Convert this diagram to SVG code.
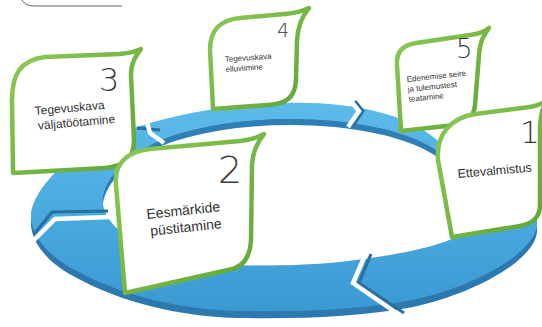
<svg xmlns="http://www.w3.org/2000/svg" width="542" height="327" viewBox="0 0 542 327">
<defs>
<style>
.card{fill:#fff;stroke:url(#grn);stroke-width:4.5;stroke-linejoin:round}
.num{font-family:"DejaVu Sans",sans-serif;font-weight:200;fill:#3a3a3a}
.lbl{font-family:"Liberation Sans",Arial,sans-serif;fill:#333}
.cut{fill:none;stroke:#fff;stroke-width:4.5;stroke-linejoin:miter}
.edge{fill:none;stroke:#2a6f9e;stroke-width:3}
</style>
<linearGradient id="top" x1="0" y1="0" x2="0" y2="1">
<stop offset="0" stop-color="#5dbbea"/>
<stop offset="0.6" stop-color="#47a8de"/>
<stop offset="1" stop-color="#3b99d1"/>
</linearGradient>
<linearGradient id="grn" x1="0" y1="0" x2="1" y2="1">
<stop offset="0" stop-color="#8ec955"/>
<stop offset="1" stop-color="#5fa535"/>
</linearGradient>
<path id="outer" d="M285,103 C345,101 405,112 437,140 C490,170 540,200 537,225 C534,255 470,288 413,300 C360,310 300,312 240,311 C180,310 120,295 75,270 C40,252 25,225 33,205 C45,172 90,140 140,126 C180,114 230,104 285,103 Z"/>
<path id="inner" d="M290,119 C350,119 410,130 440,153 C475,178 490,205 475,225 C455,245 400,255 340,262 C300,266 260,266 230,265 C170,262 110,240 103,205 C100,180 130,150 175,135 C210,124 250,119 290,119 Z"/>
<clipPath id="hole"><use href="#inner"/></clipPath>
</defs>
<rect width="542" height="327" fill="#fff"/>
<path d="M22,0 C25,5 29,6 38,6 L122,6" fill="none" stroke="#666" stroke-width="1"/>
<g id="connectors">
<use href="#outer" transform="translate(0,7)" fill="#2d78ae"/>
<path fill-rule="evenodd" fill="url(#top)" d="M285,103 C345,101 405,112 437,140 C490,170 540,200 537,225 C534,255 470,288 413,300 C360,310 300,312 240,311 C180,310 120,295 75,270 C40,252 25,225 33,205 C45,172 90,140 140,126 C180,114 230,104 285,103 Z M290,119 C350,119 410,130 440,153 C475,178 490,205 475,225 C455,245 400,255 340,262 C300,266 260,266 230,265 C170,262 110,240 103,205 C100,180 130,150 175,135 C210,124 250,119 290,119 Z"/>
<g clip-path="url(#hole)">
<use href="#inner" fill="#2f7fb6"/>
<use href="#inner" transform="translate(0,6)" fill="#fff"/>
</g>
<polyline class="edge" points="355,101 363,111 353,126"/>
<polyline class="cut" points="350,100 359,111 348,127"/>
<polyline class="edge" points="371,254 359,283 404,313"/>
<polyline class="cut" points="366,253 353,283 398,314"/>
<polyline class="edge" points="35,233 52,212 108,211"/>
<polyline class="cut" points="33,241 55,219 110,217"/>
<polyline class="edge" points="137,128 160,130"/>
<polyline class="cut" points="147,122 150,133 164,143"/>
</g>
<g id="node4">
<path class="card" d="M213,109 L210,50 C210,30 220,20 240,18 L285,14 C296,13 303,11 309,8 C302,16 298,25 297,40 L296,80 C295,97 287,104 268,105 Z"/>
<text class="num" x="277" y="37" font-size="19">4</text>
<text class="lbl" font-size="8" transform="rotate(-4 225 62)"><tspan x="225" y="62">Tegevuskava</tspan><tspan x="225" y="72">elluviimine</tspan></text>
</g>
<g id="node5">
<path class="card" d="M401,131 L397,65 C396,52 403,45 416,43 L470,35 C478,34 484,32 489,28 C483,36 480,42 479,55 L475,105 C474,117 467,123 455,125 Z"/>
<text class="num" x="456" y="58" font-size="26">5</text>
<text class="lbl" font-size="8" transform="rotate(-6 407 82)"><tspan x="407" y="82">Edenemise seire</tspan><tspan x="407" y="92">ja tulemustest</tspan><tspan x="407" y="102">teatamine</tspan></text>
</g>
<g id="node3">
<path class="card" d="M13,173 L12,100 C12,75 20,60 45,57 L120,54 C130,53 137,51 141,49 C136,56 131,62 131,75 L134,140 C134,158 125,166 105,168 Z"/>
<text class="num" x="99" y="91" font-size="32">3</text>
<text class="lbl" font-size="12" transform="rotate(-5 35 115)"><tspan x="35" y="115">Tegevuskava</tspan><tspan x="37" y="130">väljatöötamine</tspan></text>
</g>
<g id="node1">
<path class="card" d="M452,237 L438,160 C436,135 450,118 475,114 L530,107 C536,106 541,104 546,101 C542,109 540,118 540,130 L540,205 C540,217 532,224 520,226 Z"/>
<text class="num" x="520" y="143" font-size="31">1</text>
<text class="lbl" x="458" y="178" font-size="12.5" transform="rotate(-5 458 178)">Ettevalmistus</text>
</g>
<g id="node2">
<path class="card" d="M125,293 L116,185 C114,165 125,152 150,149 L240,141 C250,140 257,138 264,134 C258,142 253,150 252,165 L251,240 C250,258 243,268 228,270 Z"/>
<text class="num" x="218" y="183" font-size="38">2</text>
<text class="lbl" font-size="14" transform="rotate(-6 147 219)"><tspan x="147" y="219">Eesmärkide</tspan><tspan x="149" y="236">püstitamine</tspan></text>
</g>
</svg>
